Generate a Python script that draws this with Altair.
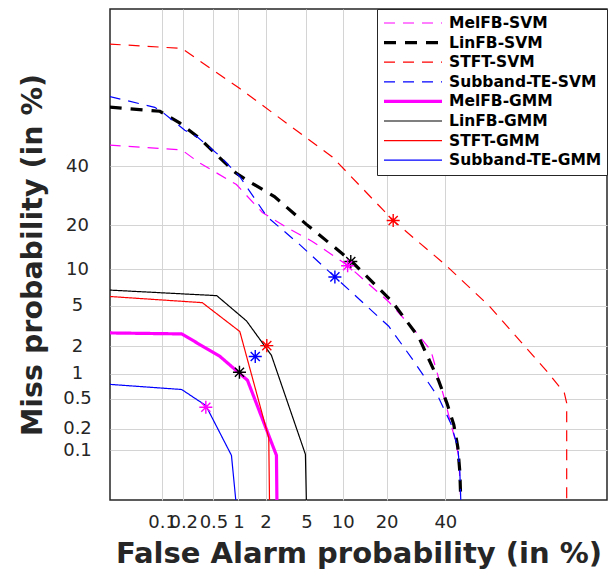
import altair as alt
import pandas as pd
from statistics import NormalDist

# ---------------- data (percent) ----------------
SERIES = ["MelFB-SVM", "LinFB-SVM", "STFT-SVM", "Subband-TE-SVM",
          "MelFB-GMM", "LinFB-GMM", "STFT-GMM", "Subband-TE-GMM"]

FA = {
    "MelFB-SVM": [0.015, 0.19, 0.33, 0.95, 1.85, 3.25, 5.6, 10.85, 20.6, 28.8, 34.5, 39.8, 42.1, 44.1, 45.3, 46.1],
    "LinFB-SVM": [0.015, 0.093, 0.18, 0.33, 0.60, 0.93, 1.34, 2.47, 5.0, 11.6, 21.6, 30.2, 37.5, 40.6, 43.3, 44.9, 45.7, 46.1],
    "STFT-SVM": [0.015, 0.19, 1.03, 4.3, 8.3, 21.9, 40.2, 57.2, 78.2, 82.6, 83.2, 83.2],
    "Subband-TE-SVM": [0.015, 0.078, 0.102, 0.21, 0.31, 0.60, 1.04, 2.06, 4.3, 8.7, 20.6, 27.8, 37.5, 42.1, 44.9, 45.7, 46.1],
    "MelFB-GMM": [0.015, 0.19, 0.60, 1.27, 2.59, 2.62],
    "LinFB-GMM": [0.015, 0.55, 1.24, 2.30, 4.9, 5.0],
    "STFT-GMM": [0.015, 0.36, 1.04, 2.16, 2.2],
    "Subband-TE-GMM": [0.015, 0.19, 0.40, 0.83, 0.94],
}
MISS = {
    "MelFB-SVM": [48.3, 46.4, 41.3, 33.1, 23.7, 19.4, 15.8, 10.7, 5.4, 2.9, 1.82, 0.48, 0.24, 0.13, 0.078, 0.015],
    "LinFB-SVM": [63.2, 61.6, 57.0, 51.1, 43.2, 37.5, 34.1, 28.9, 20.2, 11.5, 5.4, 2.48, 0.82, 0.44, 0.23, 0.11, 0.047, 0.015],
    "STFT-SVM": [83.3, 82.2, 70.0, 53.3, 43.6, 21.3, 10.7, 5.0, 1.02, 0.59, 0.44, 0.015],
    "Subband-TE-SVM": [67.1, 63.1, 61.2, 54.2, 51.5, 44.0, 36.0, 22.5, 15.1, 8.7, 3.2, 1.49, 0.51, 0.24, 0.11, 0.047, 0.015],
    "MelFB-GMM": [2.75, 2.69, 1.57, 0.84, 0.084, 0.015],
    "LinFB-GMM": [6.8, 6.1, 3.6, 1.61, 0.087, 0.015],
    "STFT-GMM": [6.0, 5.3, 2.84, 0.15, 0.015],
    "Subband-TE-GMM": [0.75, 0.65, 0.41, 0.084, 0.015],
}

# equal-error-rate markers as drawn (asterisks)
STAR_COLOR = ["#ff0000", "#000000", "#ff00ff", "#0000ff", "#ff0000", "#0000ff", "#000000", "#ff00ff"]
STAR_FA = [21.9, 11.5, 10.9, 8.7, 2.06, 1.55, 1.03, 0.40]
STAR_MISS = [21.3, 11.4, 10.6, 8.7, 2.04, 1.56, 1.04, 0.39]

TICKS = [0.1, 0.2, 0.5, 1, 2, 5, 10, 20, 40]
X_LIM = [0.0152, 91.4]
Y_LIM = [0.0167, 90.6]

# ---------------- styles ----------------
COLORS = ["#ff00ff", "#000000", "#ff0000", "#0000ff", "#ff00ff", "#000000", "#ff0000", "#0000ff"]
DASHES = [[11, 8], [12, 9], [11, 8], [11, 8], [1, 0], [1, 0], [1, 0], [1, 0]]
WIDTHS = [1.2, 3.2, 1.2, 1.2, 3.2, 1.2, 1.2, 1.2]
FONT = "DejaVu Sans"
TXT = "#262626"

nd = NormalDist()
rows = []
for s in SERIES:
    for i, (f, m) in enumerate(zip(FA[s], MISS[s])):
        rows.append({"series": s, "fa": f, "miss": m, "idx": i})
df = pd.DataFrame(rows)
stars = pd.DataFrame({"fa": STAR_FA, "miss": STAR_MISS, "c": STAR_COLOR})

x_dom = [nd.inv_cdf(X_LIM[0] / 100), nd.inv_cdf(X_LIM[1] / 100)]
y_dom = [nd.inv_cdf(Y_LIM[0] / 100), nd.inv_cdf(Y_LIM[1] / 100)]
tick_vals = [nd.inv_cdf(t / 100) for t in TICKS]
label_expr = "'' + round(cumulativeNormal(datum.value) * 1000) / 10"

W, H = 497, 491

x_enc = alt.X("px:Q",
              scale=alt.Scale(domain=x_dom, nice=False, zero=False),
              axis=alt.Axis(values=tick_vals, labelExpr=label_expr,
                            title="False Alarm probability (in %)",
                            labelOverlap=False, labelFlush=False, labelPadding=13,
                            titleX=W / 2, titleY=62, titleAlign="center",
                            titleBaseline="alphabetic", titleFontSize=29))
y_enc = alt.Y("py:Q",
              scale=alt.Scale(domain=y_dom, nice=False, zero=False),
              axis=alt.Axis(values=tick_vals, labelExpr=label_expr,
                            title="Miss probability (in %)",
                            labelOverlap=False, labelFlush=False,
                            labelAlign="center", labelBaseline="middle", labelPadding=33,
                            titleX=-78, titleY=H / 2, titleAngle=270, titleAlign="center",
                            titleBaseline="middle", titleFontSize=28.5))

leg = alt.Legend(title=None, orient="top-right", offset=0, symbolType="stroke",
                 symbolSize=3364, clipHeight=18, rowPadding=1.6, padding=5,
                 labelFont=FONT, labelFontWeight="bold", labelFontSize=15.5,
                 labelColor="#000000", labelOffset=5, labelLimit=400,
                 strokeColor="#262626", fillColor="white")

calc = dict(px="quantileNormal(datum.fa / 100)", py="quantileNormal(datum.miss / 100)")

lines = alt.Chart(df).transform_calculate(**calc).mark_line(clip=True, strokeCap="butt").encode(
    x=x_enc, y=y_enc,
    color=alt.Color("series:N", scale=alt.Scale(domain=SERIES, range=COLORS), legend=leg),
    strokeDash=alt.StrokeDash("series:N", scale=alt.Scale(domain=SERIES, range=DASHES), legend=leg),
    strokeWidth=alt.StrokeWidth("series:N",
                                scale=alt.Scale(type="ordinal", domain=SERIES, range=WIDTHS),
                                legend=leg),
    order=alt.Order("idx:Q"),
)

STAR_PATH = "M-1,0L1,0M0,-1L0,1M-0.7,-0.7L0.7,0.7M-0.7,0.7L0.7,-0.7"
pts = alt.Chart(stars).transform_calculate(**calc).mark_point(
    shape=STAR_PATH, size=170, filled=False, strokeWidth=1.4, opacity=1, clip=True
).encode(
    x="px:Q", y="py:Q",
    stroke=alt.Stroke("c:N", scale=None, legend=None),
)

chart = alt.layer(lines, pts).properties(
    width=W, height=H,
    autosize=alt.AutoSizeParams(type="none"),
    padding={"left": 102, "top": 1, "right": 1, "bottom": 70},
).configure_view(
    stroke="#262626", strokeWidth=1.5
).configure_axis(
    ticks=False, tickSize=0, domain=False, grid=True,
    gridColor="#d4d4d4", gridWidth=1,
    labelFont=FONT, labelFontSize=18, labelColor=TXT,
    titleFont=FONT, titleFontSize=28, titleFontWeight="bold", titleColor=TXT,
)

chart.save("out.html", embed_options={"renderer": "svg", "actions": False})
